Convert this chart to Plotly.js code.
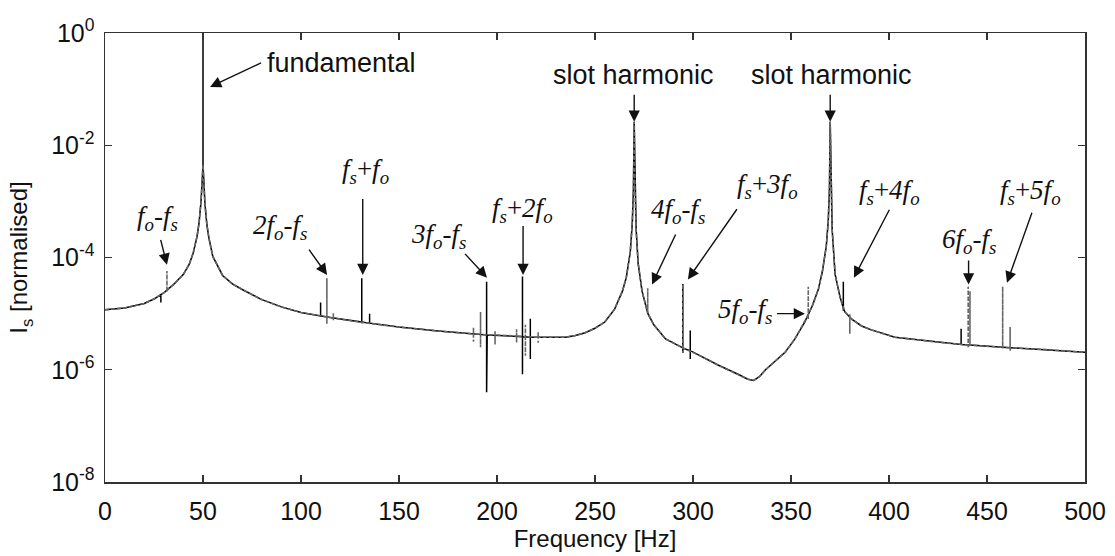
<!DOCTYPE html>
<html>
<head>
<meta charset="utf-8">
<script src="https://cdn.plot.ly/plotly-3.0.1.min.js"></script>
<style>html,body{margin:0;padding:0;background:#fff;}#chart{width:1115px;height:556px;}</style>
</head>
<body>
<div id="chart"></div>
<script>
// ---- Data (y given as log10 of normalised current) ----
const baseFreq = [0,10,20,25,30,35,40,43,45,47,48,49,49.6,50,50.4,51,52,53,55,58,60,65,70,80,90,100,115,130,150,170,195,220,235,240,245,250,255,260,264,266,268,269,269.6,270,270.4,271,272,274,277,280,286,296,303,313,323,328,331,334,337,342,347,352,357,361,364,366,368,369,369.6,370,370.4,371,372.5,375,377.5,381,386,391,403,425,445,462,480,500];
const baseLog  = [-4.93,-4.90,-4.82,-4.74,-4.63,-4.48,-4.30,-4.12,-3.92,-3.62,-3.38,-3.00,-2.62,-2.35,-2.62,-3.05,-3.42,-3.65,-3.98,-4.20,-4.32,-4.47,-4.57,-4.75,-4.88,-4.98,-5.07,-5.15,-5.24,-5.31,-5.38,-5.42,-5.42,-5.39,-5.34,-5.26,-5.15,-4.92,-4.60,-4.35,-3.90,-3.40,-2.80,-1.58,-2.80,-3.50,-4.10,-4.60,-5.00,-5.20,-5.45,-5.63,-5.74,-5.92,-6.08,-6.17,-6.19,-6.12,-6.00,-5.85,-5.69,-5.45,-5.15,-4.85,-4.56,-4.25,-3.80,-3.35,-2.80,-1.58,-2.80,-3.50,-4.30,-4.70,-4.97,-5.10,-5.22,-5.29,-5.42,-5.51,-5.57,-5.61,-5.64,-5.69];

// solid-line spikes
const solidSpikeFreq = [28.5,50,110,131,135,194.7,213,217,294.8,298.6,376.7,436.8];
const solidSpikeBase = [-4.66,-2.35,-5.04,-5.15,-5.17,-5.38,-5.41,-5.42,-5.61,-5.66,-4.90,-5.55];
const solidSpikeTop  = [-4.66,0,-4.80,-4.37,-5.00,-4.43,-4.34,-5.09,-4.47,-5.30,-4.43,-5.27];
const solidSpikeBot  = [-4.80,-2.35,-5.06,-5.17,-5.17,-6.40,-6.08,-5.81,-5.70,-5.81,-4.95,-5.56];

// dashed-line spikes
const dashSpikeFreq = [31.6,113.2,116.5,188,191.6,199,210,214.5,221,276.9,294.8,358.8,380,440.4,441.3,458,461.8];
const dashSpikeBase = [-4.58,-5.06,-5.08,-5.36,-5.37,-5.38,-5.40,-5.41,-5.42,-4.99,-5.61,-5.02,-5.06,-5.56,-5.56,-5.60,-5.61];
const dashSpikeTop  = [-4.24,-4.37,-4.98,-5.25,-4.97,-5.30,-5.28,-5.20,-5.33,-4.55,-4.47,-4.52,-5.00,-4.52,-4.60,-4.52,-5.24];
const dashSpikeBot  = [-4.62,-5.18,-5.12,-5.50,-5.60,-5.55,-5.52,-5.75,-5.52,-5.00,-5.70,-5.10,-5.36,-5.60,-5.58,-5.62,-5.66];

const xTickVals = [0,50,100,150,200,250,300,350,400,450,500];
const yTickVals = [1e-8,1e-6,1e-4,1e-2,1];
const yTickText = ['10<sup>-8</sup>','10<sup>-6</sup>','10<sup>-4</sup>','10<sup>-2</sup>','10<sup>0</sup>'];

// ---- build series ----
function buildSeries(sf, sb, st, sbot) {
  const pts = [];
  baseFreq.forEach((f, i) => pts.push({f: f, v: baseLog[i], k: 0}));
  sf.forEach((f, i) => {
    pts.push({f: f, v: sb[i], k: 1});
    pts.push({f: f, v: st[i], k: 2});
    pts.push({f: f, v: sbot[i], k: 3});
    pts.push({f: f, v: sb[i], k: 4});
  });
  pts.sort((a, b) => a.f - b.f || a.k - b.k);
  return {x: pts.map(p => p.f), y: pts.map(p => Math.pow(10, p.v))};
}
const solid = buildSeries(solidSpikeFreq, solidSpikeBase, solidSpikeTop, solidSpikeBot);
const dashed = buildSeries(dashSpikeFreq, dashSpikeBase, dashSpikeTop, dashSpikeBot);

const traces = [
  {x: solid.x, y: solid.y, type: 'scatter', mode: 'lines', line: {color: '#000', width: 1.5}, hoverinfo: 'skip'},
  {x: dashed.x, y: dashed.y, type: 'scatter', mode: 'lines', line: {color: '#666', width: 1.6, dash: '4px,2px'}, hoverinfo: 'skip'}
];

const labFont = {family: 'Liberation Serif', size: 27, color: '#111'};
const sansFont = {family: 'Liberation Sans', size: 27, color: '#111'};
const tickFont = {family: 'Liberation Sans', size: 25, color: '#111'};
const titleFont = {family: 'Liberation Sans', size: 24, color: '#111'};

function label(text, x, y, font) {
  return {x: x, y: y, xref: 'x', yref: 'y', text: text, showarrow: false, font: font || labFont, xanchor: 'center', yanchor: 'middle'};
}
function arrow(x, y, ax, ay) {
  return {x: x, y: y, xref: 'x', yref: 'y', text: ' ', font: {size: 2}, showarrow: true, ax: ax, ay: ay,
    arrowhead: 2, arrowsize: 1.6, arrowwidth: 1.4, arrowcolor: '#111', standoff: 0, startstandoff: 0};
}

const fo = '<i>f</i><sub><i>o</i></sub>';
const fs = '<i>f</i><sub><i>s</i></sub>';

const annotations = [
  Object.assign(label('fundamental', 81.6, -0.53, sansFont), {xanchor: 'left'}),
  arrow(53.6, -0.96, 53, -25),
  label('slot harmonic', 269.6, -0.75, sansFont),
  arrow(270, -1.58, 0, -30),
  label('slot harmonic', 370.6, -0.75, sansFont),
  arrow(370, -1.58, 0, -30),
  label(fo + '-' + fs, 27.0, -3.29),
  arrow(31.6, -4.13, -7, -28),
  label('<i>2</i>' + fo + '-' + fs, 89.3, -3.45),
  arrow(113.3, -4.31, -20, -28),
  label(fs + '+' + fo, 132.7, -2.45),
  arrow(131.5, -4.31, 0, -79),
  label('<i>3</i>' + fo + '-' + fs, 169.9, -3.61),
  arrow(194.9, -4.36, -24, -26),
  label(fs + '+<i>2</i>' + fo, 212.8, -3.15),
  arrow(213.3, -4.31, 0, -52),
  label('<i>4</i>' + fo + '-' + fs, 292.3, -3.17),
  arrow(279.1, -4.48, 25, -53),
  label(fs + '+<i>3</i>' + fo, 337.8, -2.72),
  arrow(297.4, -4.39, 51, -73),
  label('<i>5</i>' + fo + '-' + fs, 326.5, -4.96),
  arrow(357.1, -5.0, -30, 0),
  label(fs + '+<i>4</i>' + fo, 400.5, -2.83),
  arrow(382.1, -4.36, 37, -71),
  label('<i>6</i>' + fo + '-' + fs, 440.8, -3.70),
  arrow(440.6, -4.48, 0, -27),
  label(fs + '+<i>5</i>' + fo, 472.4, -2.83),
  arrow(460.2, -4.45, 26, -73)
];

const axisCommon = {
  showline: true, linecolor: '#333', linewidth: 1.5, mirror: 'ticks',
  ticks: 'inside', ticklen: 7, tickwidth: 1.2, tickcolor: '#333',
  showgrid: false, zeroline: false, tickfont: tickFont
};

const layout = {
  width: 1115, height: 556,
  margin: {l: 105, r: 30, t: 33, b: 74},
  paper_bgcolor: '#fff', plot_bgcolor: '#fff',
  showlegend: false,
  xaxis: Object.assign({}, axisCommon, {
    range: [0, 500], tickvals: xTickVals, ticklabelstandoff: 6,
    title: {text: 'Frequency [Hz]', font: titleFont, standoff: 6}
  }),
  yaxis: Object.assign({}, axisCommon, {
    type: 'log', range: [-8, 0], tickvals: yTickVals, ticktext: yTickText, ticklabelstandoff: 4,
    title: {text: 'I<sub>s</sub> [normalised]', font: titleFont, standoff: 16}
  }),
  annotations: annotations
};

Plotly.newPlot('chart', traces, layout, {staticPlot: true, displayModeBar: false});
</script>
</body>
</html>
